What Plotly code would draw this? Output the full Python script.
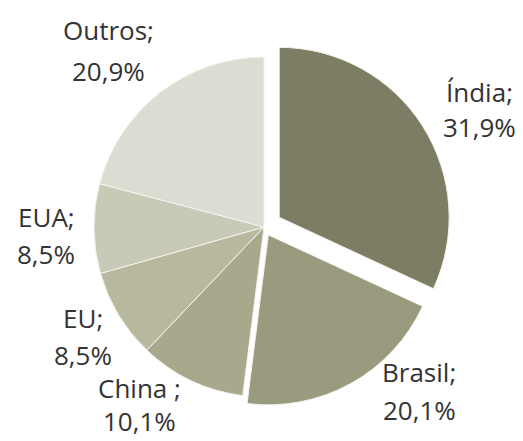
import plotly.graph_objects as go

# Data
labels = ["Índia", "Brasil", "China ", "EU", "EUA", "Outros"]
values = [31.9, 20.1, 10.1, 8.5, 8.5, 20.9]
value_text = ["31,9%", "20,1%", "10,1%", "8,5%", "8,5%", "20,9%"]

# Styles
colors = ["#7d7d63", "#9a9a7e", "#a8a88c", "#b8b89f", "#c9c9b8", "#dcdcd2"]
pulls = [0.106, 0.053, 0, 0, 0, 0]

# Label positions in pixels (x centre, y centre of name line, y centre of value line)
label_pos = [
    (479, 92, 127),
    (419, 372, 410),
    (139, 388, 421),
    (83, 318, 355),
    (46, 217, 254),
    (108, 30, 71),
]

W, H = 523, 441
fig = go.Figure()
fig.add_trace(go.Pie(
    labels=labels, values=values, sort=False, direction="clockwise", rotation=0,
    marker=dict(colors=colors, line=dict(color="#f4f4ee", width=1)),
    pull=pulls, textinfo="none", hoverinfo="label+percent",
    domain=dict(x=[76 / W, 452 / W], y=[1 - 415 / H, 1 - 39 / H]),
    showlegend=False,
))

font = dict(family="Open Sans", size=26, color="#333333")
for lab, vt, (x, y1, y2) in zip(labels, value_text, label_pos):
    fig.add_annotation(x=x / W, y=1 - y1 / H, xref="paper", yref="paper",
                       text=lab + ";", showarrow=False, font=font,
                       xanchor="center", yanchor="middle")
    fig.add_annotation(x=x / W, y=1 - y2 / H, xref="paper", yref="paper",
                       text=vt, showarrow=False, font=font,
                       xanchor="center", yanchor="middle")

fig.update_layout(width=W, height=H, margin=dict(l=0, r=0, t=0, b=0),
                  paper_bgcolor="white", plot_bgcolor="white")
fig.write_html("out.html")
